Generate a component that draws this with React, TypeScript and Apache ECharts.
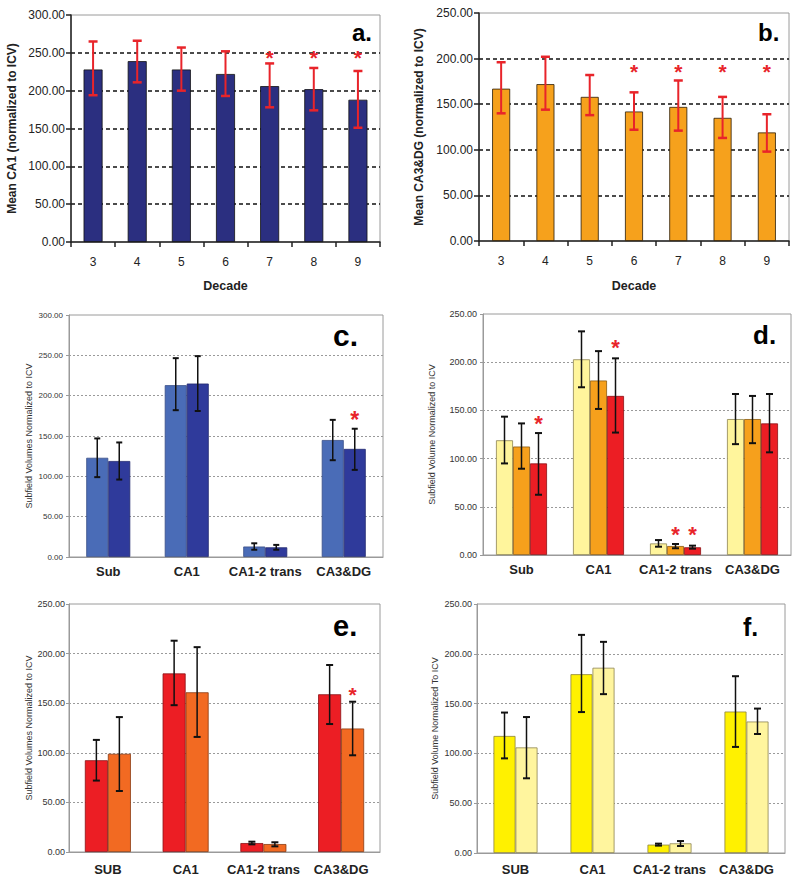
import React, { useEffect, useRef } from "react";
import * as echarts from "echarts";

// ---------- data ----------
const decades = ["3", "4", "5", "6", "7", "8", "9"];
const aMean = [228, 239, 228, 222, 206, 202, 188];
const aLow = [194, 211, 200, 193, 178, 174, 151];
const aHigh = [265, 266, 257, 252, 236, 230, 226];
const aStarIdx = [4, 5, 6];
const aStarLevel = 250;

const bMean = [167, 172, 158, 142, 147, 135, 119];
const bLow = [140, 144, 138, 122, 121, 113, 98];
const bHigh = [196, 202, 182, 163, 176, 158, 139];
const bStarIdx = [3, 4, 5, 6];
const bStarLevel = 190;

const subfieldsC = ["Sub", "CA1", "CA1-2 trans", "CA3&DG"];
const subfieldsE = ["SUB", "CA1", "CA1-2 trans", "CA3&DG"];

const c1Mean = [123, 213, 13, 145];
const c1Low = [99, 182, 9, 120];
const c1High = [147, 246.5, 17, 170];
const c2Mean = [119, 215, 12, 134];
const c2Low = [96, 181, 9, 108];
const c2High = [142, 249, 15, 159];
const cStars = [[3, 1, 175]]; // [category, series, level]

const d1Mean = [119, 203, 12, 141];
const d1Low = [95, 174, 8.6, 115];
const d1High = [143.5, 232, 15.5, 167];
const d2Mean = [112.5, 181, 9.3, 141];
const d2Low = [89.5, 151.5, 7, 116];
const d2High = [136.5, 211.5, 11.4, 165];
const d3Mean = [95, 165, 8, 136.5];
const d3Low = [62.5, 127, 6.6, 106.5];
const d3High = [126.5, 204, 9.7, 167];
const dStars = [[0, 2, 141], [1, 2, 220], [2, 1, 26], [2, 2, 26]];

const e1Mean = [92.5, 180, 9, 159];
const e1Low = [72, 148, 7.7, 129];
const e1High = [113, 213, 10.4, 188.5];
const e2Mean = [99, 161, 8, 124.5];
const e2Low = [61.5, 116, 5.7, 97.5];
const e2High = [136, 206.5, 9.8, 151.5];
const eStars = [[3, 1, 163]];

const f1Mean = [117.5, 179.5, 8.4, 142];
const f1Low = [95, 141.5, 7.4, 106.5];
const f1High = [141, 219, 9.4, 177.5];
const f2Mean = [106, 186, 9.7, 132];
const f2Low = [75, 159.5, 7, 119.5];
const f2High = [136.5, 212, 12, 145];
const fStars: number[][] = [];

// ---------- styling ----------
const FONT = 'Arial, "Liberation Sans", sans-serif';
const STAR_RED = "#E8242A";

type SeriesDef = { mean: number[]; low: number[]; high: number[]; color: string; border: string };
type Panel = {
  grid: { left: number; top: number; width: number; height: number };
  cats: string[];
  max: number;
  series: SeriesDef[];
  barWidth: number;
  stars: number[][];
  yName: string;
  yNameGap: number;
  yNameStyle: any;
  yLabelSize: number;
  yLabelMargin: number;
  xLabelMargin: number;
  xLabelStyle: any;
  xName?: string;
  xNameGap?: number;
  classic: boolean;
  errColor: string;
  errWidth: number;
  capW: number;
  starSize: number;
  letter: string;
  letterPos: [number, number];
  letterSize: number;
};

const panels: Panel[] = [
  {
    grid: { left: 71, top: 15, width: 309, height: 227 },
    cats: decades, max: 300,
    series: [{ mean: aMean, low: aLow, high: aHigh, color: "#2B2F80", border: "#111" }],
    barWidth: 19,
    stars: aStarIdx.map((i) => [i, 0, aStarLevel]),
    yName: "Mean CA1 (normalized to ICV)", yNameGap: 53,
    yNameStyle: { fontSize: 12, fontWeight: "bold", color: "#222" },
    yLabelSize: 12, yLabelMargin: 6, xLabelMargin: 14,
    xLabelStyle: { fontSize: 12, color: "#222" },
    xName: "Decade", xNameGap: 37, classic: true,
    errColor: "#E8242A", errWidth: 2, capW: 9, starSize: 21,
    letter: "a.", letterPos: [352, 32], letterSize: 24,
  },
  {
    grid: { left: 479, top: 13, width: 310, height: 228 },
    cats: decades, max: 250,
    series: [{ mean: bMean, low: bLow, high: bHigh, color: "#F6A11C", border: "#2a1c08" }],
    barWidth: 18,
    stars: bStarIdx.map((i) => [i, 0, bStarLevel]),
    yName: "Mean CA3&DG (normalized to ICV)", yNameGap: 54,
    yNameStyle: { fontSize: 12, fontWeight: "bold", color: "#222" },
    yLabelSize: 12, yLabelMargin: 6, xLabelMargin: 14,
    xLabelStyle: { fontSize: 12, color: "#222" },
    xName: "Decade", xNameGap: 38, classic: true,
    errColor: "#E8242A", errWidth: 2, capW: 9, starSize: 21,
    letter: "b.", letterPos: [758, 32], letterSize: 24,
  },
  {
    grid: { left: 69, top: 315, width: 314, height: 242 },
    cats: subfieldsC, max: 300,
    series: [
      { mean: c1Mean, low: c1Low, high: c1High, color: "#4A6CB7", border: "#3a4f88" },
      { mean: c2Mean, low: c2Low, high: c2High, color: "#2F3A9B", border: "#232b70" },
    ],
    barWidth: 22, stars: cStars,
    yName: "Subfield Volumes Normalized to ICV", yNameGap: 36,
    yNameStyle: { fontSize: 9, color: "#333" },
    yLabelSize: 8, yLabelMargin: 6, xLabelMargin: 8,
    xLabelStyle: { fontSize: 13, fontWeight: "bold", color: "#222" },
    classic: false, errColor: "#111", errWidth: 1.5, capW: 6, starSize: 23,
    letter: "c.", letterPos: [333, 335], letterSize: 30,
  },
  {
    grid: { left: 483, top: 314, width: 308, height: 241 },
    cats: subfieldsC, max: 250,
    series: [
      { mean: d1Mean, low: d1Low, high: d1High, color: "#FFF59C", border: "#8d8450" },
      { mean: d2Mean, low: d2Low, high: d2High, color: "#F6A01C", border: "#8a5a10" },
      { mean: d3Mean, low: d3Low, high: d3High, color: "#EC1E24", border: "#8a1014" },
    ],
    barWidth: 17, stars: dStars,
    yName: "Subfield Volume Normalized to ICV", yNameGap: 47,
    yNameStyle: { fontSize: 9, color: "#333" },
    yLabelSize: 9, yLabelMargin: 6, xLabelMargin: 8,
    xLabelStyle: { fontSize: 13, fontWeight: "bold", color: "#222" },
    classic: false, errColor: "#111", errWidth: 1.5, capW: 7, starSize: 22,
    letter: "d.", letterPos: [753, 335], letterSize: 26,
  },
  {
    grid: { left: 69, top: 604, width: 311, height: 248 },
    cats: subfieldsE, max: 250,
    series: [
      { mean: e1Mean, low: e1Low, high: e1High, color: "#EC1E24", border: "#8a1014" },
      { mean: e2Mean, low: e2Low, high: e2High, color: "#F26A22", border: "#8a3a10" },
    ],
    barWidth: 23, stars: eStars,
    yName: "Subfield Volumes Normalized to ICV", yNameGap: 36,
    yNameStyle: { fontSize: 9, color: "#333" },
    yLabelSize: 9, yLabelMargin: 4, xLabelMargin: 11,
    xLabelStyle: { fontSize: 13, fontWeight: "bold", color: "#222" },
    classic: false, errColor: "#111", errWidth: 1.5, capW: 7, starSize: 21,
    letter: "e.", letterPos: [333, 626], letterSize: 29,
  },
  {
    grid: { left: 477, top: 604, width: 308, height: 249 },
    cats: subfieldsE, max: 250,
    series: [
      { mean: f1Mean, low: f1Low, high: f1High, color: "#FFF100", border: "#8d8440" },
      { mean: f2Mean, low: f2Low, high: f2High, color: "#FFF59E", border: "#8d8450" },
    ],
    barWidth: 22, stars: fStars,
    yName: "Subfield Volume Normalized To ICV", yNameGap: 38,
    yNameStyle: { fontSize: 9, color: "#333" },
    yLabelSize: 9, yLabelMargin: 5, xLabelMargin: 10,
    xLabelStyle: { fontSize: 13, fontWeight: "bold", color: "#222" },
    classic: false, errColor: "#111", errWidth: 1.5, capW: 7, starSize: 21,
    letter: "f.", letterPos: [743, 627], letterSize: 25,
  },
];

function buildOption() {
  const grid: any[] = [];
  const xAxis: any[] = [];
  const yAxis: any[] = [];
  const series: any[] = [];
  const graphic: any[] = [];

  panels.forEach((p, pi) => {
    grid.push({
      ...p.grid,
      show: true,
      borderColor: "#9a9a9a",
      borderWidth: 1,
      backgroundColor: "transparent",
    });
    const axisColor = p.classic ? "#222" : "#9a9a9a";
    xAxis.push({
      type: "category",
      gridIndex: pi,
      data: p.cats,
      axisLine: { show: true, lineStyle: { color: axisColor, width: p.classic ? 1.5 : 1 } },
      axisTick: { show: p.classic, length: 5, lineStyle: { color: axisColor, width: 1.5 } },
      axisLabel: { interval: 0, hideOverlap: false, margin: p.xLabelMargin, fontFamily: FONT, ...p.xLabelStyle },
      name: p.xName,
      nameLocation: "middle",
      nameGap: p.xNameGap,
      nameTextStyle: { fontFamily: FONT, fontSize: 12.5, fontWeight: "bold", color: "#222" },
    });
    yAxis.push({
      type: "value",
      gridIndex: pi,
      min: 0,
      max: p.max,
      interval: 50,
      axisLine: { show: true, lineStyle: { color: axisColor, width: p.classic ? 1.5 : 1 } },
      axisTick: { show: true, length: p.classic ? 5 : 3, lineStyle: { color: axisColor, width: p.classic ? 1.5 : 1 } },
      axisLabel: {
        margin: p.yLabelMargin,
        fontFamily: FONT,
        fontSize: p.yLabelSize,
        color: p.classic ? "#222" : "#333",
        formatter: (v: number) => v.toFixed(2),
      },
      splitLine: {
        show: true,
        showMinLine: false,
        showMaxLine: false,
        lineStyle: p.classic
          ? { color: "#111", width: 1.5, type: [4, 3] }
          : { color: "#9a9a9a", width: 1, type: [2, 2] },
      },
      name: p.yName,
      nameLocation: "middle",
      nameGap: p.yNameGap,
      nameRotate: 90,
      nameTextStyle: { fontFamily: FONT, ...p.yNameStyle },
    });

    const n = p.series.length;
    p.series.forEach((s) => {
      series.push({
        type: "bar",
        xAxisIndex: pi,
        yAxisIndex: pi,
        data: s.mean,
        barWidth: p.barWidth,
        barGap: "0%",
        itemStyle: { color: s.color, borderColor: s.border, borderWidth: 0.8 },
        z: 2,
      });
    });
    // error bars
    p.series.forEach((s, si) => {
      const offset = (si - (n - 1) / 2) * p.barWidth;
      series.push({
        type: "custom",
        xAxisIndex: pi,
        yAxisIndex: pi,
        z: 5,
        encode: { x: 0, y: [1, 2] },
        data: s.mean.map((_, i) => [i, s.low[i], s.high[i]]),
        renderItem: (params: any, api: any) => {
          const lo = api.coord([api.value(0), api.value(1)]);
          const hi = api.coord([api.value(0), api.value(2)]);
          const x = lo[0] + offset;
          const st = { stroke: p.errColor, lineWidth: p.errWidth };
          const hw = p.capW / 2;
          return {
            type: "group",
            children: [
              { type: "line", shape: { x1: x, y1: hi[1], x2: x, y2: lo[1] }, style: st },
              { type: "line", shape: { x1: x - hw, y1: hi[1], x2: x + hw, y2: hi[1] }, style: { ...st, lineWidth: p.errWidth + 0.5 } },
              { type: "line", shape: { x1: x - hw, y1: lo[1], x2: x + hw, y2: lo[1] }, style: { ...st, lineWidth: p.errWidth + 0.5 } },
            ],
          };
        },
      });
    });
    // stars
    if (p.stars.length) {
      series.push({
        type: "custom",
        xAxisIndex: pi,
        yAxisIndex: pi,
        z: 6,
        encode: { x: 0, y: 2 },
        data: p.stars.map((st) => [st[0], st[1], st[2]]),
        renderItem: (params: any, api: any) => {
          const si = api.value(1);
          const offset = (si - (n - 1) / 2) * p.barWidth;
          const c = api.coord([api.value(0), api.value(2)]);
          return {
            type: "text",
            x: c[0] + offset,
            y: c[1] - p.starSize * 0.3,
            style: {
              text: "*",
              fill: STAR_RED,
              font: `bold ${p.starSize}px ${FONT}`,
              textAlign: "center",
              textVerticalAlign: "top",
            },
          };
        },
      });
    }
    graphic.push({
      type: "text",
      left: p.letterPos[0],
      top: p.letterPos[1] - p.letterSize / 2,
      style: {
        text: p.letter,
        fill: "#000",
        font: `bold ${p.letterSize}px ${FONT}`,
      },
    });
  });

  return {
    animation: false,
    backgroundColor: "#fff",
    textStyle: { fontFamily: FONT },
    grid,
    xAxis,
    yAxis,
    series,
    graphic,
  };
}

export default function App() {
  const ref = useRef<HTMLDivElement>(null);
  useEffect(() => {
    if (!ref.current) return;
    const chart = echarts.init(ref.current, null, { renderer: "svg" });
    chart.setOption(buildOption() as any);
    return () => chart.dispose();
  }, []);
  return (
    <div
      ref={ref}
      style={{ position: "fixed", left: 0, top: 0, width: 800, height: 879, background: "#fff" }}
    />
  );
}
